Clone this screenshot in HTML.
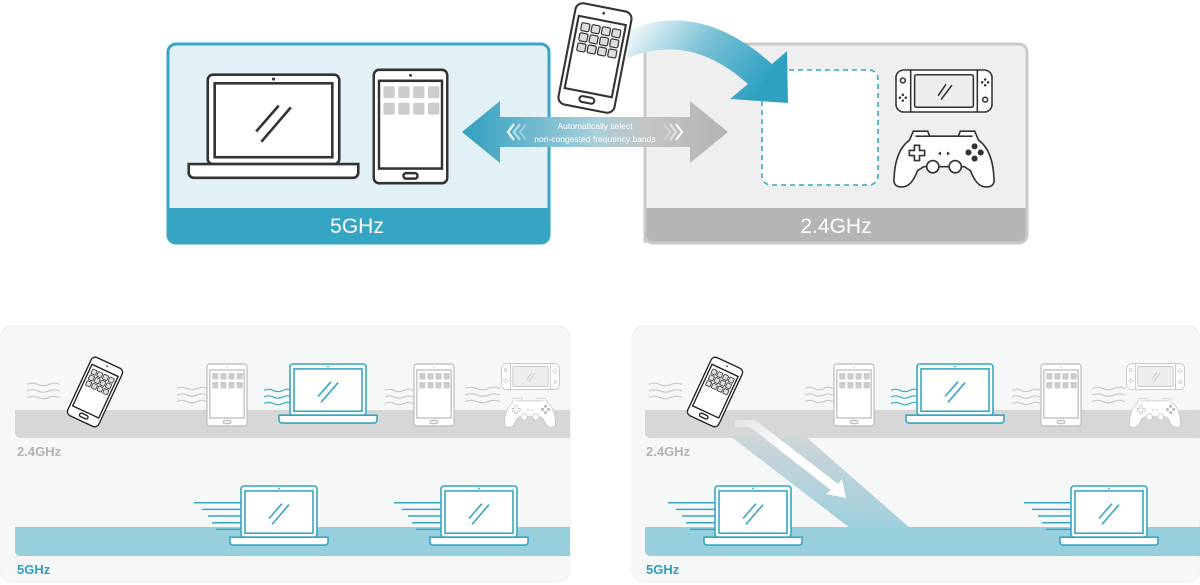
<!DOCTYPE html>
<html><head><meta charset="utf-8"><style>
html,body{margin:0;padding:0;background:#fff;width:1200px;height:585px;overflow:hidden}
svg{display:block}
text{font-family:"Liberation Sans",sans-serif}
</style></head><body>
<svg width="1200" height="585" viewBox="0 0 1200 585" xmlns="http://www.w3.org/2000/svg">
<defs>
<symbol id="laptop" viewBox="0 0 100 64" preserveAspectRatio="none" overflow="visible">
 <rect x="12" y="1" width="76" height="52" rx="3" fill="#fff" stroke="currentColor"/>
 <rect x="16" y="6" width="68" height="43" fill="none" stroke="currentColor"/>
 <circle cx="50" cy="3.5" r="0.9" fill="currentColor"/>
 <path d="M1 53 h98 v5 a3 3 0 0 1 -3 3 h-92 a3 3 0 0 1 -3 -3z" fill="#fff" stroke="currentColor"/>
 <line x1="40" y1="34" x2="53" y2="19" stroke="currentColor"/>
 <line x1="43" y1="40" x2="60" y2="20" stroke="currentColor"/>
</symbol>
<symbol id="tablet" viewBox="0 0 44 64" preserveAspectRatio="none" overflow="visible">
 <rect x="1" y="1" width="42" height="62" rx="3" fill="#fff" stroke="currentColor"/>
 <rect x="4" y="7" width="36" height="48" fill="none" stroke="currentColor"/>
 <circle cx="22" cy="4" r="0.8" fill="currentColor"/>
 <rect x="18" y="57.5" width="8" height="3" rx="1.5" fill="none" stroke="currentColor"/>
 <g fill="#ccc" stroke="none">
 <rect x="6.5" y="10" width="6.5" height="6.5" rx="1"/><rect x="15" y="10" width="6.5" height="6.5" rx="1"/><rect x="23.5" y="10" width="6.5" height="6.5" rx="1"/><rect x="32" y="10" width="6.5" height="6.5" rx="1"/>
 <rect x="6.5" y="19" width="6.5" height="6.5" rx="1"/><rect x="15" y="19" width="6.5" height="6.5" rx="1"/><rect x="23.5" y="19" width="6.5" height="6.5" rx="1"/><rect x="32" y="19" width="6.5" height="6.5" rx="1"/>
 </g>
</symbol>
<symbol id="phone" viewBox="0 0 40 72" preserveAspectRatio="none" overflow="visible">
 <rect x="1" y="1" width="38" height="70" rx="5" fill="#fff" stroke="currentColor"/>
 <rect x="4" y="10" width="32" height="50" fill="none" stroke="currentColor"/>
 <circle cx="20" cy="5" r="0.9" fill="currentColor"/>
 <rect x="15" y="63" width="10" height="4" rx="2" fill="none" stroke="currentColor"/>
 <g fill="#ddd" stroke="currentColor" stroke-width="0.8">
 <rect x="7" y="14" width="5.5" height="5.5" rx="1"/><rect x="14" y="14" width="5.5" height="5.5" rx="1"/><rect x="21" y="14" width="5.5" height="5.5" rx="1"/><rect x="28" y="14" width="5.5" height="5.5" rx="1"/>
 <rect x="7" y="21" width="5.5" height="5.5" rx="1"/><rect x="14" y="21" width="5.5" height="5.5" rx="1"/><rect x="21" y="21" width="5.5" height="5.5" rx="1"/><rect x="28" y="21" width="5.5" height="5.5" rx="1"/>
 <rect x="7" y="28" width="5.5" height="5.5" rx="1"/><rect x="14" y="28" width="5.5" height="5.5" rx="1"/><rect x="21" y="28" width="5.5" height="5.5" rx="1"/><rect x="28" y="28" width="5.5" height="5.5" rx="1"/>
 </g>
</symbol>
<symbol id="switch" viewBox="0 0 100 46" preserveAspectRatio="none" overflow="visible">
 <rect x="1" y="1" width="98" height="44" rx="8" fill="#fff" stroke="currentColor"/>
 <line x1="16" y1="1" x2="16" y2="45" stroke="currentColor"/><line x1="84" y1="1" x2="84" y2="45" stroke="currentColor"/>
 <rect x="20" y="6" width="60" height="34" rx="2" fill="#eee" stroke="currentColor"/>
 <line x1="44" y1="28" x2="52" y2="16" stroke="currentColor"/><line x1="47" y1="32" x2="58" y2="17" stroke="currentColor"/>
 <circle cx="8" cy="12" r="2.5" fill="none" stroke="currentColor"/><circle cx="92" cy="32" r="2.5" fill="none" stroke="currentColor"/>
 <g fill="currentColor" stroke="none"><circle cx="8" cy="27" r="1.3"/><circle cx="5" cy="30" r="1.3"/><circle cx="11" cy="30" r="1.3"/><circle cx="8" cy="33" r="1.3"/>
 <circle cx="92" cy="11" r="1.3"/><circle cx="89" cy="14" r="1.3"/><circle cx="95" cy="14" r="1.3"/><circle cx="92" cy="17" r="1.3"/></g>
</symbol>
<symbol id="pad" viewBox="0 0 100 66" preserveAspectRatio="none" overflow="visible">
 <path d="M20 10 h14 l2 5 h28 l2 -5 h14 l4 9 q14 10 15 38 q1 8 -8 8 q-9 0 -15 -16 l-6 -4 h-40 l-6 4 q-6 16 -15 16 q-9 0 -8 -8 q1 -28 15 -38z" fill="#fff" stroke="currentColor"/>
 <line x1="22" y1="15" x2="36" y2="15" stroke="currentColor"/><line x1="64" y1="15" x2="78" y2="15" stroke="currentColor"/>
 <path d="M21 24 h5 v5 h5 v5 h-5 v5 h-5 v-5 h-5 v-5 h5z" fill="#fff" stroke="currentColor"/>
 <circle cx="39" cy="45" r="6" fill="#fff" stroke="currentColor"/><circle cx="61" cy="45" r="6" fill="#fff" stroke="currentColor"/>
 <g fill="currentColor" stroke="none"><circle cx="80" cy="25" r="3"/><circle cx="74" cy="31" r="3"/><circle cx="86" cy="31" r="3"/><circle cx="80" cy="37" r="3"/>
 <path d="M44 32 l3 -2 v4z"/><path d="M56 32 l-3 -2 v4z"/></g>
</symbol>
<symbol id="waves" viewBox="0 0 30 22" preserveAspectRatio="none" overflow="visible">
 <g fill="none" stroke="currentColor">
 <path d="M0 3 q5 -3 10 0 t10 0 t10 0"/><path d="M0 11 q5 -3 10 0 t10 0 t10 0"/><path d="M0 19 q5 -3 10 0 t10 0 t10 0"/>
 </g>
</symbol>
<symbol id="speed" viewBox="0 0 50 40" preserveAspectRatio="none" overflow="visible">
 <g stroke="currentColor" stroke-width="1.6">
 <line x1="0" y1="5" x2="50" y2="5"/><line x1="8" y1="12" x2="50" y2="12"/><line x1="14" y1="19" x2="50" y2="19"/><line x1="18" y1="26" x2="50" y2="26"/><line x1="22" y1="33" x2="50" y2="33"/>
 </g>
</symbol>
<linearGradient id="dbl" x1="0" x2="1" y1="0" y2="0">
 <stop offset="0" stop-color="#2f9fc0"/><stop offset="0.5" stop-color="#a9cfd9"/><stop offset="0.7" stop-color="#c4c4c4"/><stop offset="1" stop-color="#b3b3b3"/>
</linearGradient>
<linearGradient id="curve" x1="0" x2="1" y1="0" y2="0.4">
 <stop offset="0" stop-color="#ffffff"/><stop offset="0.5" stop-color="#7cc2d6"/><stop offset="1" stop-color="#2fa0c2"/>
</linearGradient>
<linearGradient id="diag" x1="0" y1="0" x2="0" y2="1">
 <stop offset="0" stop-color="#cfd6d8"/><stop offset="1" stop-color="#9dd0dd"/>
</linearGradient>
<linearGradient id="warr" x1="0" y1="0" x2="1" y2="1">
 <stop offset="0" stop-color="#fff" stop-opacity="0.3"/><stop offset="0.4" stop-color="#fff"/><stop offset="1" stop-color="#fff"/>
</linearGradient>
</defs>

<!-- 2.4GHz panel -->
<path d="M645 243 V52 a8 8 0 0 1 8 -8 H1019 a8 8 0 0 1 8 8 V235 a8 8 0 0 1 -8 8z" fill="#efefef"/>
<path d="M645 208 H1027 V235 a8 8 0 0 1 -8 8 H653 a8 8 0 0 1 -8 -8z" fill="#b5b5b5"/>
<path d="M645 243 V52 a8 8 0 0 1 8 -8 H1019 a8 8 0 0 1 8 8 V235 a8 8 0 0 1 -8 8 H653 a8 8 0 0 1 -8 -8z" fill="none" stroke="#c9c9c9" stroke-width="3"/>
<text x="836" y="233" font-size="21" fill="#fff" text-anchor="middle">2.4GHz</text>
<rect x="762" y="70" width="116" height="115" rx="9" fill="#fff" stroke="#37a6c4" stroke-width="1.6" stroke-dasharray="5 4"/>
<use href="#switch" x="895" y="69" width="98" height="44" color="#333" stroke-width="1.6"/>
<use href="#pad" x="893" y="121" width="102" height="67" color="#333" stroke-width="1.6"/>

<!-- 5GHz panel -->
<path d="M168 235 V52 a8 8 0 0 1 8 -8 H541 a8 8 0 0 1 8 8 V235 a8 8 0 0 1 -8 8 H176 a8 8 0 0 1 -8 -8z" fill="#e2f1f5"/>
<path d="M168 208 H549 V235 a8 8 0 0 1 -8 8 H176 a8 8 0 0 1 -8 -8z" fill="#36a5c3"/>
<path d="M168 235 V52 a8 8 0 0 1 8 -8 H541 a8 8 0 0 1 8 8 V235 a8 8 0 0 1 -8 8 H176 a8 8 0 0 1 -8 -8z" fill="none" stroke="#37a6c4" stroke-width="3"/>
<text x="357" y="233" font-size="21" fill="#fff" text-anchor="middle">5GHz</text>
<use href="#laptop" x="187" y="73" width="173" height="110" color="#333" stroke-width="1.5"/>
<use href="#tablet" x="372" y="68" width="77" height="117" color="#333" stroke-width="1.4"/>

<!-- curved arrow -->
<path d="M628 30 Q700 0 772 64 L787 51 L788 103 L730 99 L748 84 Q690 32 628 58z" fill="url(#curve)"/>

<!-- phone top -->
<g transform="translate(595 58) rotate(11)">
<use href="#phone" x="-30" y="-53" width="60" height="106" color="#333" stroke-width="1.4"/>
</g>

<!-- double arrow -->
<polygon points="462,132 500,101 500,117 690,117 690,101 728,132 690,163 690,147 500,147 500,163" fill="url(#dbl)"/>
<g fill="none" stroke="#fff" stroke-width="2.2" opacity="0.9">
<polyline points="514,124 508,132 514,140"/><polyline points="520,124 514,132 520,140" opacity="0.6"/><polyline points="526,124 520,132 526,140" opacity="0.35"/>
<polyline points="676,124 682,132 676,140"/><polyline points="670,124 676,132 670,140" opacity="0.6"/><polyline points="664,124 670,132 664,140" opacity="0.35"/>
</g>
<text x="595" y="129" font-size="8.5" fill="#fff" text-anchor="middle">Automatically select</text>
<text x="595" y="142" font-size="8.5" fill="#fff" text-anchor="middle">non-congested frequency bands</text>

<!-- BOTTOM LEFT -->
<rect x="0" y="326" width="570" height="256" rx="12" fill="#f6f7f7" stroke="#eceeee"/>
<path d="M15 410 H570 V438 H20 a5 5 0 0 1 -5 -5z" fill="#d7d7d7"/>
<path d="M15 527 H570 V556 H20 a5 5 0 0 1 -5 -5z" fill="#97cfdc"/>
<text x="17" y="456" font-size="13" font-weight="bold" fill="#b3b3b3">2.4GHz</text>
<text x="17" y="574" font-size="13" font-weight="bold" fill="#2e9fc0">5GHz</text>
<use href="#waves" x="27" y="382" width="33" height="18" color="#c8c8c8" stroke-width="1.4"/>
<g transform="translate(95 392) rotate(25)"><use href="#phone" x="-18" y="-33" width="36" height="66" color="#222" stroke-width="1.5"/></g>
<use href="#waves" x="177" y="386" width="30" height="18" color="#c8c8c8" stroke-width="1.4"/>
<use href="#tablet" x="206" y="363" width="42" height="64" color="#c2c2c2" stroke-width="1.4"/>
<use href="#waves" x="264" y="388" width="28" height="18" color="#37a6c4" stroke-width="1.4"/>
<use href="#laptop" x="278" y="363" width="100" height="63" color="#37a6c4" stroke-width="1.6"/>
<use href="#waves" x="385" y="388" width="28" height="18" color="#c8c8c8" stroke-width="1.4"/>
<use href="#tablet" x="413" y="363" width="42" height="64" color="#c2c2c2" stroke-width="1.4"/>
<use href="#waves" x="465" y="386" width="35" height="18" color="#c8c8c8" stroke-width="1.4"/>
<use href="#switch" x="501" y="363" width="59" height="27" color="#bbb" stroke-width="1.2"/>
<use href="#pad" x="504" y="393" width="52" height="35" color="#bbb" stroke-width="1.2"/>
<use href="#speed" x="194" y="498" width="50" height="38" color="#37a6c4"/>
<use href="#laptop" x="229" y="485" width="100" height="63" color="#37a6c4" stroke-width="1.6"/>
<use href="#speed" x="394" y="498" width="50" height="38" color="#37a6c4"/>
<use href="#laptop" x="429" y="485" width="100" height="63" color="#37a6c4" stroke-width="1.6"/>

<!-- BOTTOM RIGHT -->
<rect x="632" y="326" width="568" height="256" rx="12" fill="#f6f7f7" stroke="#eceeee"/>
<path d="M645 410 H1200 V438 H650 a5 5 0 0 1 -5 -5z" fill="#d7d7d7"/>
<polygon points="730,436 805,436 910,528 850,528" fill="url(#diag)"/>
<path d="M645 527 H1200 V556 H650 a5 5 0 0 1 -5 -5z" fill="#97cfdc"/>
<polygon points="735,420 755,420 838,484 842,479 846,498 826,494 831,490 750,427 735,427" fill="url(#warr)"/>
<text x="646" y="456" font-size="13" font-weight="bold" fill="#b3b3b3">2.4GHz</text>
<text x="646" y="574" font-size="13" font-weight="bold" fill="#2e9fc0">5GHz</text>
<use href="#waves" x="649" y="382" width="33" height="18" color="#c8c8c8" stroke-width="1.4"/>
<g transform="translate(715 392) rotate(25)"><use href="#phone" x="-18" y="-33" width="36" height="66" color="#222" stroke-width="1.5"/></g>
<use href="#waves" x="805" y="386" width="28" height="18" color="#c8c8c8" stroke-width="1.4"/>
<use href="#tablet" x="833" y="363" width="42" height="64" color="#c2c2c2" stroke-width="1.4"/>
<use href="#waves" x="891" y="388" width="28" height="18" color="#37a6c4" stroke-width="1.4"/>
<use href="#laptop" x="905" y="363" width="100" height="63" color="#37a6c4" stroke-width="1.6"/>
<use href="#waves" x="1012" y="388" width="28" height="18" color="#c8c8c8" stroke-width="1.4"/>
<use href="#tablet" x="1040" y="363" width="42" height="64" color="#c2c2c2" stroke-width="1.4"/>
<use href="#waves" x="1092" y="386" width="33" height="18" color="#c8c8c8" stroke-width="1.4"/>
<use href="#switch" x="1126" y="363" width="59" height="27" color="#bbb" stroke-width="1.2"/>
<use href="#pad" x="1129" y="393" width="52" height="35" color="#bbb" stroke-width="1.2"/>
<use href="#speed" x="668" y="498" width="50" height="38" color="#37a6c4"/>
<use href="#laptop" x="703" y="485" width="100" height="63" color="#37a6c4" stroke-width="1.6"/>
<use href="#speed" x="1024" y="498" width="50" height="38" color="#37a6c4"/>
<use href="#laptop" x="1059" y="485" width="100" height="63" color="#37a6c4" stroke-width="1.6"/>
</svg>
</body></html>
